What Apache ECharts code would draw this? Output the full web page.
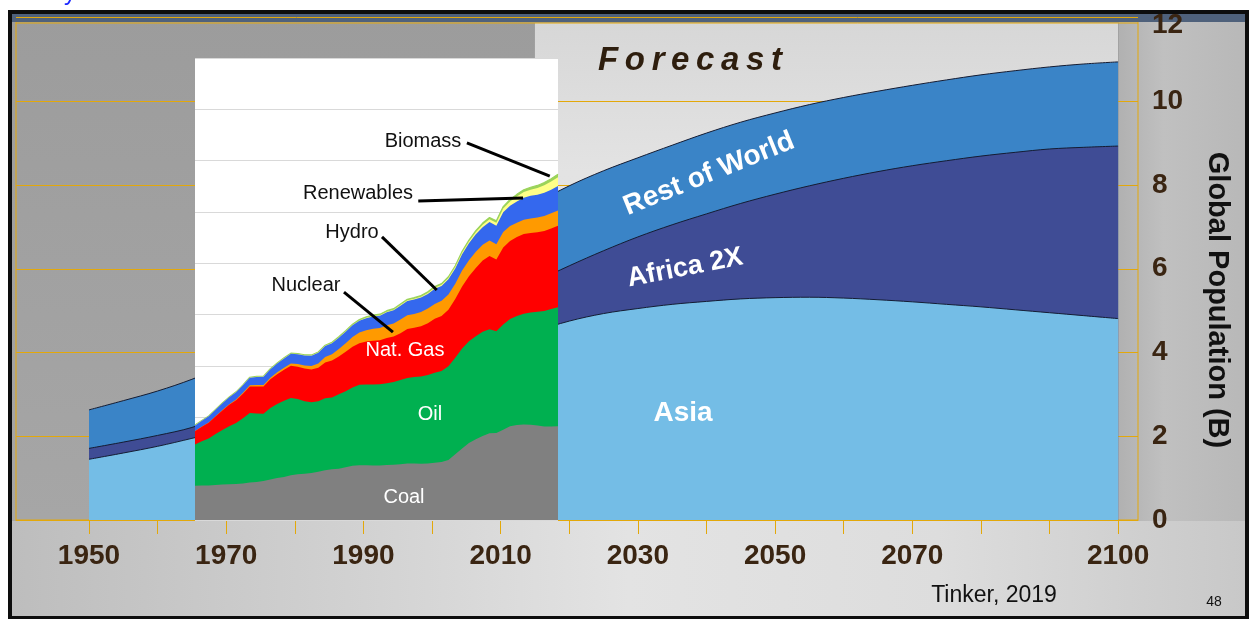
<!DOCTYPE html>
<html>
<head>
<meta charset="utf-8">
<title>Global Population and Energy</title>
<script src="https://cdn.jsdelivr.net/npm/echarts@6/dist/echarts.min.js"></script>
<style>
  html, body { margin: 0; padding: 0; background: #ffffff; }
  #chart { width: 1250px; height: 619px; }
</style>
</head>
<body>
<div id="chart"></div>
<script>
// ---- Population by region, billions ----
const popYears = [1950, 1955, 1960, 1965, 1970, 1975, 1980, 1985, 1990, 1995, 2000,
  2005, 2010, 2015, 2020, 2025, 2030, 2035, 2040, 2045, 2050,
  2055, 2060, 2065, 2070, 2075, 2080, 2085, 2090, 2095, 2100];
const asia = [1.45, 1.60, 1.76, 1.95, 2.15, 2.40, 2.65, 2.90, 3.20, 3.45, 3.70,
  3.95, 4.20, 4.50, 4.75, 4.93, 5.05, 5.15, 5.22, 5.28, 5.31,
  5.32, 5.30, 5.26, 5.21, 5.15, 5.09, 5.02, 4.95, 4.88, 4.81];
const africa = [0.26, 0.26, 0.26, 0.26, 0.36, 0.42, 0.48, 0.55, 0.63, 0.72, 0.81,
  0.92, 1.04, 1.18, 1.32, 1.50, 1.71, 1.90, 2.09, 2.28, 2.47,
  2.66, 2.86, 3.06, 3.25, 3.43, 3.60, 3.76, 3.91, 4.02, 4.12];
const restOfWorld = [0.92, 0.99, 1.06, 1.15, 1.19, 1.25, 1.32, 1.40, 1.47, 1.55, 1.62,
  1.75, 1.82, 1.87, 1.91, 1.91, 1.89, 1.90, 1.93, 1.94, 1.94,
  1.94, 1.93, 1.92, 1.92, 1.93, 1.94, 1.95, 1.96, 1.99, 2.01];

// ---- World primary energy by source, Mtoe (1965-2018) ----
const energyYears = [];
for (let y = 1965; y <= 2018; y++) energyYears.push(y);
const coal = [1330, 1340, 1340, 1360, 1380, 1395, 1400, 1420, 1460, 1480,
  1520, 1580, 1640, 1680, 1740, 1780, 1800, 1830, 1880, 1940,
  1975, 2000, 2060, 2110, 2130, 2130, 2120, 2120, 2140, 2150,
  2170, 2200, 2200, 2190, 2200, 2230, 2260, 2340, 2560, 2790,
  3000, 3150, 3270, 3380, 3390, 3520, 3650, 3700, 3720, 3710,
  3680, 3640, 3640, 3650];
const oil = [1610, 1730, 1840, 1990, 2130, 2260, 2380, 2540, 2710, 2670,
  2620, 2780, 2880, 2970, 3010, 2930, 2830, 2760, 2750, 2800,
  2800, 2900, 2960, 3050, 3135, 3150, 3160, 3170, 3190, 3230,
  3280, 3330, 3370, 3400, 3450, 3510, 3550, 3650, 3760, 3890,
  3960, 4010, 4060, 4050, 3960, 4100, 4180, 4250, 4320, 4370,
  4430, 4500, 4580, 4640];
const natGas = [520, 560, 610, 680, 760, 835, 890, 960, 1030, 1050,
  1060, 1120, 1160, 1200, 1260, 1265, 1270, 1270, 1300, 1400,
  1440, 1470, 1540, 1590, 1620, 1670, 1700, 1710, 1760, 1770,
  1830, 1910, 1920, 1960, 2020, 2100, 2140, 2200, 2290, 2420,
  2540, 2660, 2780, 2860, 2800, 3000, 3040, 3080, 3100, 3100,
  3100, 3120, 3140, 3170];
const nuclear = [5, 8, 10, 13, 17, 20, 27, 37, 50, 55,
  60, 65, 75, 85, 90, 100, 120, 140, 170, 210,
  240, 290, 330, 380, 420, 440, 470, 480, 500, 510,
  530, 540, 540, 550, 570, 580, 590, 600, 595, 620,
  620, 630, 610, 600, 590, 600, 580, 550, 560, 570,
  580, 580, 590, 600];
const hydro = [220, 230, 240, 250, 260, 270, 280, 290, 295, 320,
  325, 330, 340, 360, 375, 385, 390, 400, 415, 425,
  430, 440, 445, 455, 455, 470, 480, 480, 505, 510,
  540, 550, 560, 565, 570, 590, 580, 590, 595, 630,
  660, 680, 690, 720, 720, 770, 790, 830, 860, 880,
  880, 910, 920, 950];
const renewables = [2, 2, 2, 2, 2, 3, 3, 3, 3, 4,
  4, 4, 5, 5, 5, 6, 7, 8, 9, 10,
  12, 13, 14, 15, 17, 19, 20, 21, 22, 24,
  26, 28, 31, 34, 37, 40, 44, 50, 56, 63,
  72, 82, 96, 112, 126, 146, 170, 192, 216, 240,
  265, 290, 315, 340];
const biomass = [10, 10, 11, 11, 12, 12, 13, 13, 14, 14,
  15, 16, 17, 18, 19, 20, 21, 22, 23, 24,
  25, 27, 29, 31, 33, 35, 36, 37, 38, 39,
  40, 41, 42, 43, 44, 45, 47, 49, 51, 53,
  55, 59, 63, 67, 71, 75, 80, 85, 90, 95,
  100, 107, 114, 120];

// ---- Axis ticks and labels ----
const xTickYears = [];
for (let y = 1950; y <= 2100; y += 10) xTickYears.push(y);
const xLabelYears = [1950, 1970, 1990, 2010, 2030, 2050, 2070, 2100];
const forecastStart = 2015;

// Leader lines from the energy labels to their bands: [[year, Mtoe], [year, Mtoe]]
const leaderLines = [
  [[2004.7, 14690], [2016.8, 13400]],   // Biomass
  [[1997.6, 12430], [2012.9, 12545]],   // Renewables
  [[1992.3, 11030], [2000.3, 8960]],    // Hydro
  [[1986.75, 8880], [1993.9, 7320]]     // Nuclear
];

// ---- Styling ----
const GOLD = '#e3a80a';
const AXIS_TEXT = '#3a2512';
const FONT = '"Liberation Sans", Arial, Helvetica, sans-serif';

const popLayers = [
  { name: 'Asia', values: asia, color: '#74bde6' },
  { name: 'Africa', values: africa, color: '#3f4c95' },
  { name: 'Rest of World', values: restOfWorld, color: '#3a84c7' }
];
const energyLayers = [
  { name: 'Coal', values: coal, color: '#808080' },
  { name: 'Oil', values: oil, color: '#00b050' },
  { name: 'Nat. Gas', values: natGas, color: '#ff0000' },
  { name: 'Nuclear', values: nuclear, color: '#ff9a00' },
  { name: 'Hydro', values: hydro, color: '#3468ee' },
  { name: 'Renewables', values: renewables, color: '#ffff88' },
  { name: 'Biomass', values: biomass, color: '#9bd35a', edge: '#9bd35a' }
];

// Running totals: each layer is drawn as the band from 0 up to its cumulative top;
// upper layers are painted first so every band shows between its neighbours.
function withTops(layers) {
  let run = null;
  return layers.map(l => {
    run = run ? run.map((v, i) => v + l.values[i]) : l.values.slice();
    return Object.assign({}, l, { tops: run });
  });
}

function stackedSeries(layers, years, axisIndex, baseZ, lineFor, smooth) {
  const stacked = withTops(layers);
  const n = stacked.length;
  return stacked.map((s, k) => ({
    name: s.name, type: 'line', xAxisIndex: axisIndex, yAxisIndex: axisIndex,
    data: years.map((yr, i) => [yr, +s.tops[i].toFixed(4)]),
    smooth: smooth, symbol: 'none', showSymbol: false, silent: true,
    z: baseZ + (n - k) * 0.01,
    lineStyle: lineFor(s),
    areaStyle: { color: s.color, opacity: 1, origin: 'start' }
  }));
}

function txt(id, text, x, y, opts) {
  opts = opts || {};
  return {
    type: 'text', id: id, x: x, y: y, z: opts.z != null ? opts.z : 20,
    rotation: (opts.rotate || 0) * Math.PI / 180, silent: true,
    style: {
      text: text, x: 0, y: 0,
      align: opts.align || 'center', verticalAlign: opts.valign || 'middle',
      fill: opts.color || '#111111',
      font: (opts.style || 'normal') + ' ' + (opts.weight || 'normal') + ' ' +
        (opts.size || 20) + 'px ' + FONT
    }
  };
}

const chart = echarts.init(document.getElementById('chart'), null, { renderer: 'canvas' });

const option = {
  animation: false,
  backgroundColor: '#ffffff',
  grid: [
    { // population
      left: 16, right: 112, top: 17.5, bottom: 99,
      show: true, backgroundColor: 'transparent', borderColor: GOLD, borderWidth: 1,
      containLabel: false, outerBoundsMode: 'none', z: 0
    },
    { // energy inset
      left: 195, right: 692, top: 58, bottom: 99,
      show: true, backgroundColor: '#ffffff', borderWidth: 0,
      containLabel: false, outerBoundsMode: 'none', z: 3
    }
  ],
  xAxis: [
    {
      type: 'value', gridIndex: 0, min: 1939.36, max: 2102.9, z: 1,
      axisLine: { show: true, onZero: false, lineStyle: { color: GOLD, width: 1 } },
      axisTick: { show: true, customValues: xTickYears, length: 14, lineStyle: { color: GOLD, width: 1 } },
      axisLabel: {
        customValues: xLabelYears, margin: 22, color: AXIS_TEXT,
        fontSize: 28, fontWeight: 'bold', fontFamily: FONT,
        formatter: v => String(v)
      },
      splitLine: { show: false }
    },
    { type: 'value', gridIndex: 1, min: 1965, max: 2018, show: false }
  ],
  yAxis: [
    {
      type: 'value', gridIndex: 0, position: 'right', min: 0, max: 12, interval: 2, z: 1,
      axisLine: { show: false }, axisTick: { show: false },
      axisLabel: {
        margin: 14, align: 'left', color: AXIS_TEXT,
        fontSize: 28, fontWeight: 'bold', fontFamily: FONT,
        formatter: v => (v === 12 ? '{top|12}' : String(v)),
        rich: { top: { padding: [16, 0, 0, 0], color: AXIS_TEXT, fontSize: 28, fontWeight: 'bold', fontFamily: FONT } }
      },
      splitLine: { show: true, lineStyle: { color: GOLD, width: 1 } }
    },
    {
      type: 'value', gridIndex: 1, min: 0, max: 18000, interval: 2000, z: 3.5,
      axisLine: { show: false }, axisTick: { show: false }, axisLabel: { show: false },
      splitLine: { show: true, lineStyle: { color: '#d9d9d9', width: 1 } }
    }
  ],
  series: [
    ...stackedSeries(popLayers, popYears, 0, 2,
      () => ({ color: '#141c33', width: 1 }), 0.35).reverse(),
    ...stackedSeries(energyLayers, energyYears, 1, 4,
      s => (s.edge ? { color: s.edge, width: 1.2 } : { width: 0, opacity: 0 }), false).reverse(),
    {
      name: 'leaders', type: 'line', xAxisIndex: 1, yAxisIndex: 1,
      data: [[1965, 0]], symbol: 'none', showSymbol: false, silent: true, z: 6,
      lineStyle: { opacity: 0 },
      markLine: {
        silent: true, z: 6, symbol: ['none', 'none'], animation: false,
        lineStyle: { color: '#000000', width: 3, type: 'solid' },
        label: { show: false },
        emphasis: { disabled: true },
        data: leaderLines.map(l => [{ coord: l[0] }, { coord: l[1] }])
      }
    }
  ],
  graphic: { elements: [
    // slide backdrop
    { type: 'rect', id: 'panel', z: -10, silent: true,
      shape: { x: 10, y: 12, width: 1237, height: 606 },
      style: { fill: { type: 'linear', x: 0, y: 0, x2: 0, y2: 1, colorStops: [
        { offset: 0, color: '#9c9c9c' }, { offset: 1, color: '#a8a8a8' }] } } },
    { type: 'rect', id: 'bottomBand', z: -9, silent: true,
      shape: { x: 10, y: 521, width: 1237, height: 97 },
      style: { fill: { type: 'linear', x: 0, y: 0, x2: 1, y2: 0, colorStops: [
        { offset: 0, color: '#bdbdbd' }, { offset: 0.3, color: '#d3d3d3' },
        { offset: 0.5, color: '#e3e3e3' }, { offset: 0.75, color: '#dddddd' },
        { offset: 1, color: '#c8c8c8' }] } } },
    { type: 'rect', id: 'rightBand', z: -9, silent: true,
      shape: { x: 1119, y: 22, width: 128, height: 499 },
      style: { fill: { type: 'linear', x: 0, y: 0, x2: 1, y2: 0, colorStops: [
        { offset: 0, color: '#b1b1b1' }, { offset: 0.35, color: '#c0c0c0' },
        { offset: 1, color: '#b8b8b8' }] } } },
    { type: 'rect', id: 'topBand', z: 0.8, silent: true,
      shape: { x: 10, y: 12, width: 1237, height: 10 },
      style: { fill: '#4f617b' } },
    { type: 'line', id: 'topRule', z: 0.9, silent: true,
      shape: { x1: 16, y1: 23, x2: 1138, y2: 23 },
      style: { stroke: GOLD, lineWidth: 1 } },
    { type: 'rect', id: 'frame', z: 100, silent: true,
      shape: { x: 10, y: 12, width: 1237, height: 606 },
      style: { fill: null, stroke: '#0d0d0d', lineWidth: 4 } },
    // stray glyph of the line above the slide
    { type: 'text', id: 'topGlyph', x: 64, y: 5, z: 20, silent: true,
      style: { text: 'y', align: 'left', verticalAlign: 'bottom', fill: '#1f2bff',
        font: 'normal 24px ' + FONT } },
    // headings and annotations
    txt('forecast', 'F\u2009o\u2009r\u2009e\u2009c\u2009a\u2009s\u2009t', 690, 61,
      { size: 33, weight: 'bold', style: 'italic', color: '#2e1e0e' }),
    txt('lblRow', 'Rest of World', 709, 174, { size: 28, weight: 'bold', color: '#ffffff', rotate: 22 }),
    txt('lblAfrica', 'Africa 2X', 685, 268, { size: 27, weight: 'bold', color: '#ffffff', rotate: 11 }),
    txt('lblAsia', 'Asia', 683, 413, { size: 28, weight: 'bold', color: '#ffffff' }),
    txt('lblBiomass', 'Biomass', 423, 141, { size: 20, z: 30 }),
    txt('lblRenew', 'Renewables', 358, 193, { size: 20, z: 30 }),
    txt('lblHydro', 'Hydro', 352, 232, { size: 20, z: 30 }),
    txt('lblNuclear', 'Nuclear', 306, 285, { size: 20, z: 30 }),
    txt('lblGas', 'Nat. Gas', 405, 350, { size: 20, color: '#ffffff', z: 30 }),
    txt('lblOil', 'Oil', 430, 414, { size: 20, color: '#ffffff', z: 30 }),
    txt('lblCoal', 'Coal', 404, 497, { size: 20, color: '#ffffff', z: 30 }),
    txt('yName', 'Global Population (B)', 1217, 300, { size: 29, weight: 'bold', color: '#111111', rotate: -90 }),
    txt('source', 'Tinker, 2019', 994, 596, { size: 23, color: '#111111' }),
    txt('pageNo', '48', 1214, 602, { size: 14, color: '#111111' })
  ] }
};

chart.setOption(option);

// lighter backdrop behind the projected years, placed from the axis scale
const fx0 = chart.convertToPixel({ xAxisIndex: 0 }, forecastStart);
const fx1 = chart.convertToPixel({ xAxisIndex: 0 }, popYears[popYears.length - 1]);
const fy1 = chart.convertToPixel({ yAxisIndex: 0 }, 0);
chart.setOption({ graphic: { elements: [
  { type: 'rect', id: 'forecastBg', z: -5, silent: true,
    shape: { x: fx0, y: 23, width: fx1 - fx0, height: fy1 - 23 },
    style: { fill: { type: 'linear', x: 0, y: 0, x2: 0, y2: 1, colorStops: [
      { offset: 0, color: '#d7d7d7' }, { offset: 0.3, color: '#e3e3e3' },
      { offset: 1, color: '#dedede' }] } } }
] } });
</script>
</body>
</html>
